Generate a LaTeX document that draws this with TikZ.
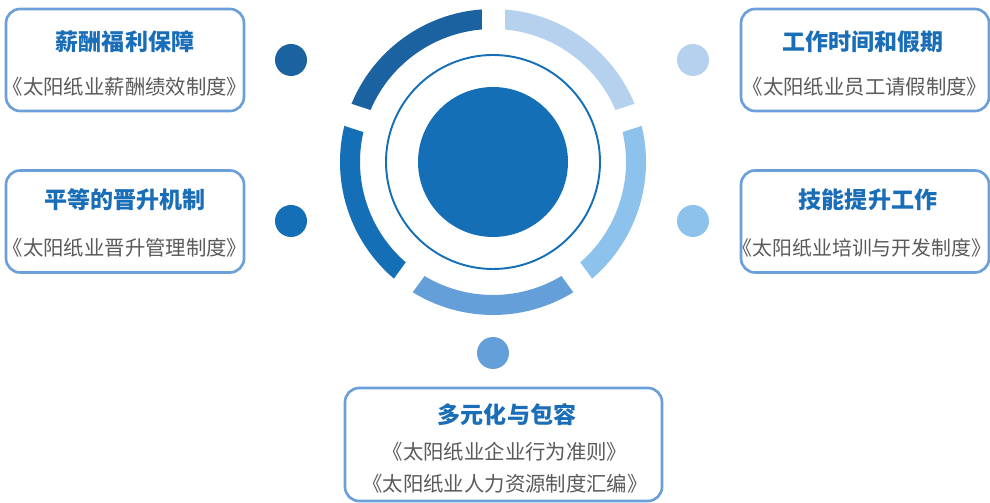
\documentclass[tikz,border=0pt]{standalone}
\usepackage{fontspec}
\setmainfont{Noto Sans CJK SC}
\usetikzlibrary{positioning}
\definecolor{segA}{HTML}{1B63A0}
\definecolor{segB}{HTML}{146FB6}
\definecolor{segC}{HTML}{659FDA}
\definecolor{segD}{HTML}{8CC2EC}
\definecolor{segE}{HTML}{B6D1EE}
\definecolor{boxline}{HTML}{6A9FD9}
\definecolor{headblue}{HTML}{1A6EB7}
\definecolor{srcgray}{HTML}{5A5A5A}

\begin{document}
\begin{tikzpicture}[
  x=0.02cm, y=0.02cm,
  card/.style={draw=boxline,line width=1.5pt,rounded corners=0.28cm,fill=white,
               minimum width=4.76cm,minimum height=2.04cm,inner sep=0pt},
  head/.style={font=\bfseries\fontsize{13.1}{15}\selectfont,text=headblue,inner sep=0pt},
  src/.style={font=\fontsize{11.6}{13}\selectfont,text=srcgray,inner sep=0pt},
  dot/.style={circle,minimum size=0.64cm,inner sep=0pt},
  seg/.style={line width=0.4cm},
  gap/.style={draw=white,line width=0.46cm}
]
\clip (0,0) rectangle (990,503);

% ---- ring of five segments ----
\begin{scope}[shift={(493,341)}]
  \foreach \a/\c in {90/segA, 162/segB, 234/segC, 306/segD, 18/segE}
    \draw[seg,draw=\c] (\a:143) arc[start angle=\a, end angle=\a+72, radius=143];
  \foreach \a in {90,18,-54,-126,162}
    \draw[gap] (\a:122) -- (\a:165);
  \draw[draw=segB,line width=1.1pt] (0,0) circle (107);
  \node[circle,fill=segB,minimum size=3cm,inner sep=0pt] (core) at (0,0) {};
\end{scope}

% ---- dots ----
\node[dot,fill=segA] (dotPay)   at (291,443) {};
\node[dot,fill=segB] (dotPromo) at (291,282) {};
\node[dot,fill=segE] (dotTime)  at (693,443) {};
\node[dot,fill=segD] (dotSkill) at (693,282) {};
\node[dot,fill=segC] (dotDiv)   at (493,150) {};

% ---- left cards ----
\node[card] (pay) at (125,443) {};
\node[head] (payT) at (125,461) {薪酬福利保障};
\node[src]  (payS) at (125,416) {《太阳纸业薪酬绩效制度》};

\node[card] (promo) at (125,281.5) {};
\node[head] (promoT) at (125,303) {平等的晋升机制};
\node[src]  (promoS) at (125,255) {《太阳纸业晋升管理制度》};

% ---- right cards ----
\node[card,minimum width=4.96cm] (time) at (865,443) {};
\node[head] (timeT) at (863,461) {工作时间和假期};
\node[src]  (timeS) at (865,416) {《太阳纸业员工请假制度》};

\node[card,minimum width=4.96cm] (skill) at (865,281.5) {};
\node[head] (skillT) at (868,303) {技能提升工作};
\node[src,font=\fontsize{11.3}{13}\selectfont] (skillS) at (862,255) {《太阳纸业培训与开发制度》};

% ---- bottom card ----
\node[card,minimum width=6.34cm,minimum height=2.26cm] (div) at (503.5,58.5) {};
\node[head] (divT)  at (507,88) {多元化与包容};
\node[src]  (divS1) at (505,51) {《太阳纸业企业行为准则》};
\node[src]  (divS2) at (505,19) {《太阳纸业人力资源制度汇编》};

\end{tikzpicture}
\end{document}
